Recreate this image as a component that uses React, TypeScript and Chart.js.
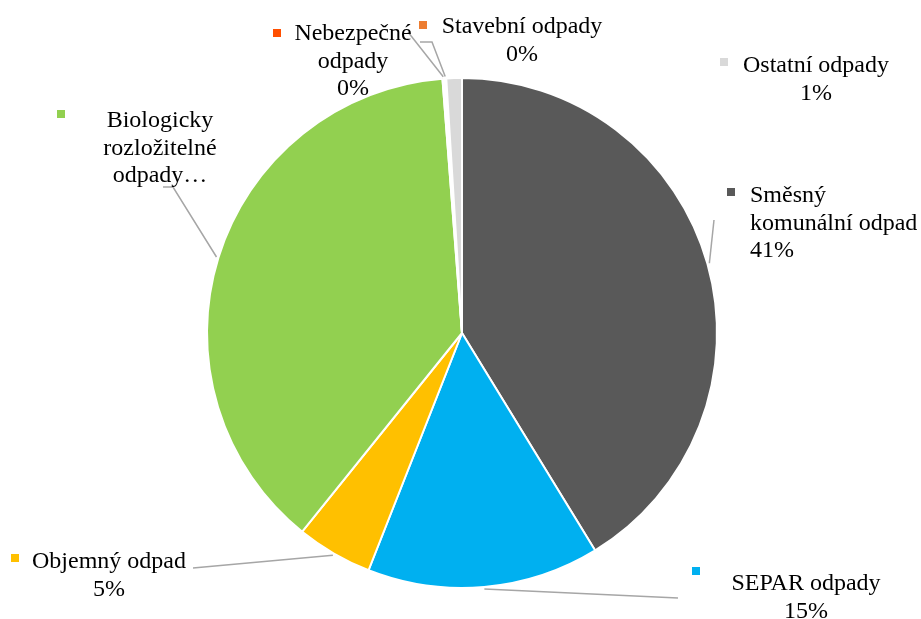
import React, { useEffect, useRef } from "react";
import { Chart, registerables } from "chart.js";

Chart.register(...registerables);

const categories = [
  "Směsný komunální odpad",
  "SEPAR odpady",
  "Objemný odpad",
  "Biologicky rozložitelné odpady",
  "Nebezpečné odpady",
  "Stavební odpady",
  "Ostatní odpady",
];
const values = [41.2, 14.7, 4.8, 37.95, 0.12, 0.12, 0.98];
const colors = ["#595959", "#00B0F0", "#FFC000", "#92D050", "#FF4F00", "#ED7D31", "#D9D9D9"];
const labelNameLines: string[][] = [
  ["Směsný", "komunální odpad"],
  ["SEPAR odpady"],
  ["Objemný odpad"],
  ["Biologicky", "rozložitelné", "odpady…"],
  ["Nebezpečné", "odpady"],
  ["Stavební odpady"],
  ["Ostatní odpady"],
];
const showPercent = [true, true, true, false, true, true, true];

const FONT = '24px "Liberation Serif", "Times New Roman", serif';

// label layout (pixel positions in the canvas)
type Layout = {
  x: number;
  y: number;
  align: CanvasTextAlign;
  mx: number;
  my: number;
  leader: number[][] | null;
};
const labelLayout: Layout[] = [
  { x: 750, y: 202, align: "left", mx: 731, my: 192, leader: [[714, 220]] },
  { x: 806, y: 590, align: "center", mx: 696, my: 571, leader: [[678, 598]] },
  { x: 109, y: 568, align: "center", mx: 15, my: 558, leader: [[193, 568]] },
  { x: 160, y: 127, align: "center", mx: 61, my: 114, leader: [[173, 187], [163, 187]] },
  { x: 353, y: 40, align: "center", mx: 277, my: 33, leader: [[408, 32]] },
  { x: 522, y: 33, align: "center", mx: 423, my: 25, leader: [[432, 42], [420, 42]] },
  { x: 816, y: 72, align: "center", mx: 724, my: 62, leader: null },
];

const labelsPlugin = {
  id: "excelLabels",
  afterDatasetsDraw(chart: any) {
    const ctx: CanvasRenderingContext2D = chart.ctx;
    const meta = chart.getDatasetMeta(0);
    const data = chart.data.datasets[0].data as number[];
    const total = data.reduce((a, b) => a + b, 0);
    ctx.save();
    meta.data.forEach((el: any, i: number) => {
      const p = el.getProps(["x", "y", "startAngle", "endAngle", "outerRadius"], true);
      const mid = (p.startAngle + p.endAngle) / 2;
      const lay = labelLayout[i];
      if (lay.leader) {
        ctx.strokeStyle = "#A6A6A6";
        ctx.lineWidth = 1.5;
        ctx.beginPath();
        ctx.moveTo(p.x + Math.cos(mid) * (p.outerRadius + 2), p.y + Math.sin(mid) * (p.outerRadius + 2));
        lay.leader.forEach((pt) => ctx.lineTo(pt[0], pt[1]));
        ctx.stroke();
      }
      // marker
      ctx.fillStyle = colors[i];
      ctx.fillRect(lay.mx - 4, lay.my - 4, 8, 8);
      // text
      const lines = [...labelNameLines[i]];
      if (showPercent[i]) lines.push(Math.round((data[i] / total) * 100) + "%");
      ctx.fillStyle = "#000000";
      ctx.font = FONT;
      ctx.textAlign = lay.align;
      ctx.textBaseline = "alphabetic";
      lines.forEach((t, k) => ctx.fillText(t, lay.x, lay.y + k * 27.5));
    });
    ctx.restore();
  },
};

export default function App() {
  const ref = useRef<HTMLCanvasElement>(null);
  useEffect(() => {
    if (!ref.current) return;
    const chart = new Chart(ref.current, {
      type: "pie",
      data: {
        labels: categories,
        datasets: [
          {
            data: values,
            backgroundColor: colors,
            borderColor: "#FFFFFF",
            borderWidth: 2,
          },
        ],
      },
      options: {
        responsive: false,
        animation: false,
        layout: { padding: { top: 77, bottom: 30, left: 100, right: 97 } },
        plugins: {
          legend: { display: false },
          tooltip: { enabled: false },
        },
      },
      plugins: [labelsPlugin],
    });
    return () => chart.destroy();
  }, []);
  return (
    <div style={{ position: "absolute", left: 0, top: 0, width: 921, height: 619, background: "#fff" }}>
      <canvas ref={ref} width={921} height={619} style={{ width: 921, height: 619 }} />
    </div>
  );
}
